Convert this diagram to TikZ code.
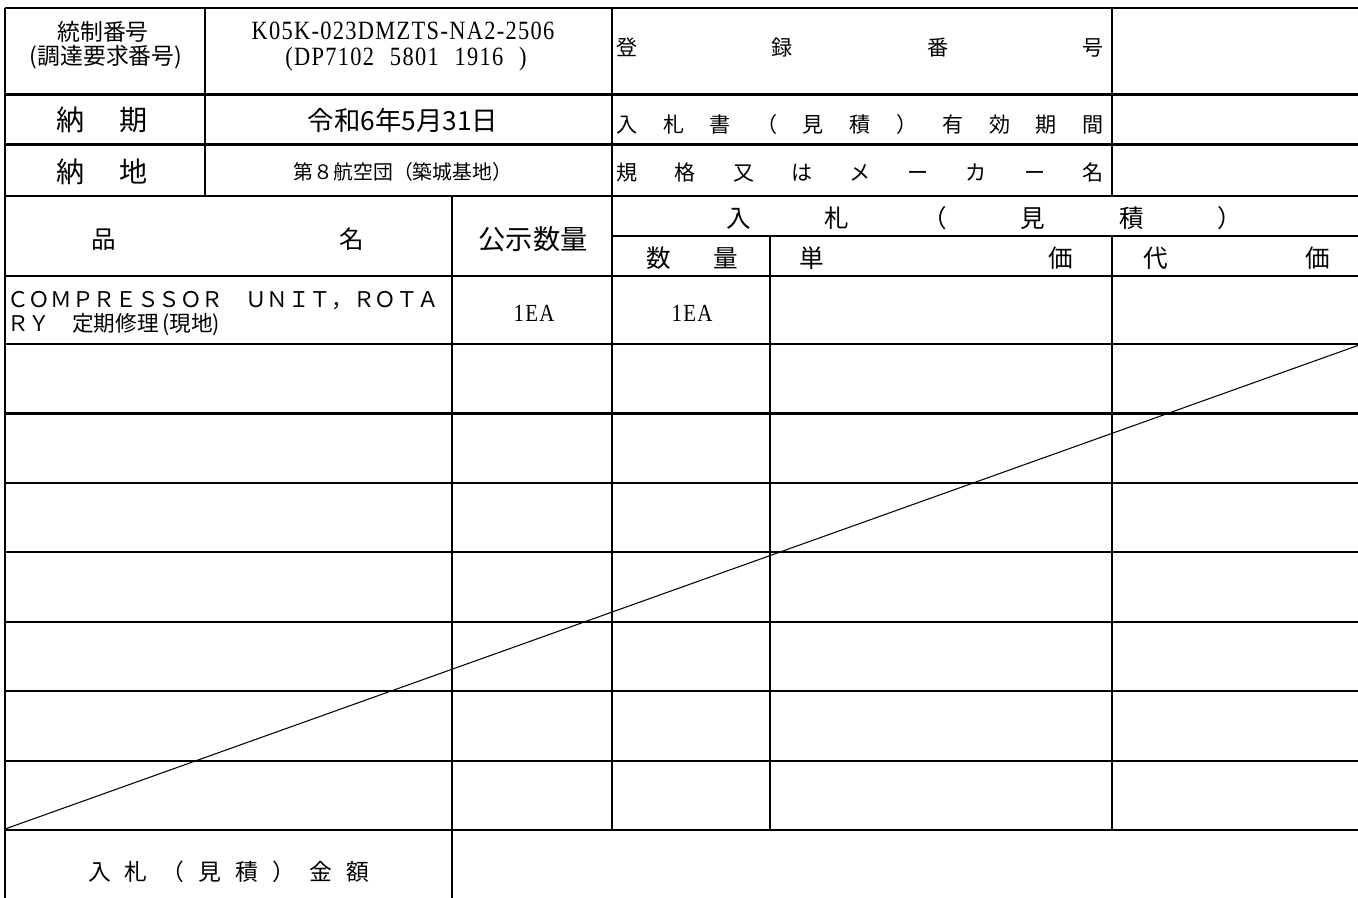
\documentclass[tikz,border=0pt]{standalone}
\usepackage{fontspec}
\setmainfont{Liberation Serif}
\newfontfamily\jpfont{Noto Sans CJK JP}
\newfontfamily\halfwidth{Liberation Serif}[FakeStretch=0.85, LetterSpace=5]
\usetikzlibrary{calc, positioning}

% spread the characters of #2 evenly over a box of width #1
\def\spreadfirst#1{#1\spreadrest}
\def\spreadrest#1{\ifx#1\relax\else\hfill#1\expandafter\spreadrest\fi}
\newcommand\spreadbox[2]{\makebox[#1]{\spreadfirst#2\relax}}

\tikzset{
  rule/.style={line width=1.25pt},
  crossout/.style={line width=0.6pt},
  jpText/.style={inner sep=0pt, font=\jpfont\fontsize{#1}{#1}\selectfont,
    text height={0.88*#1pt}, text depth={0.12*#1pt}},
  enText/.style={inner sep=0pt, font=\halfwidth\fontsize{#1}{#1}\selectfont,
    text height={0.66*#1pt}, text depth=0pt}
}

\begin{document}
\begin{tikzpicture}[x=0.02cm, y=-0.02cm]
          \useasboundingbox (0,0) rectangle (1358,897);
          % Rules
          \draw[rule] (5,8) -- (1365,8);
          \foreach \y in {94.5,144.5,196,276,344,413.4,482.9,552.3,621.7,691.1,760.6,830}
            \draw[rule] (5,\y) -- (1365,\y);
          \draw[rule] (612,236) -- (1365,236);
          \draw[rule] (5,8) -- (5,900);
          \draw[rule] (205,8) -- (205,196);
          \draw[rule] (612,8) -- (612,830);
          \draw[rule] (1112,8) -- (1112,196);
          \draw[rule] (1112,236) -- (1112,830);
          \draw[rule] (452,196) -- (452,900);
          \draw[rule] (770,236) -- (770,830);
          % Header block
          \node[jpText=13] (ctrlNoLbl) at (103,32) {統制番号};
          \node[jpText=13] (procNoLbl) at (106,56) {(調達要求番号)};
          \node[enText=15] (ctrlNoVal) at (403,31) {K05K-023DMZTS-NA2-2506};
          \node[enText=15] (procNoVal) at (406,57) {(DP7102\hspace{0.6em}5801\hspace{0.6em}1916\hspace{0.6em})};
          \node[jpText=12] (regNoLbl) at (860,47) {\spreadbox{9.74cm}{登録番号}};
          \node[jpText=16] (dueLbl) at (102,120) {\spreadbox{1.82cm}{納期}};
          \node[jpText=15] (dueVal) at (403,120) {令和6年5月31日};
          \node[jpText=12] (validLbl) at (860,124) {\spreadbox{9.74cm}{入札書（見積）有効期間}};
          \node[jpText=16] (placeLbl) at (102,172) {\spreadbox{1.82cm}{納地}};
          \node[jpText=11.3] (placeVal) at (403,172) {第８航空団（築城基地）};
          \node[jpText=12] (makerLbl) at (860,172) {\spreadbox{9.74cm}{規格又はメーカー名}};
          % Column heads
          \node[jpText=14] (itemHdr) at (227.5,239) {\spreadbox{5.46cm}{品名}};
          \node[jpText=15.5] (qtyHdr) at (533,239) {公示数量};
          \node[jpText=14] (bidHdr) at (984,218) {\spreadbox{10.32cm}{入札（見積）}};
          \node[jpText=14] (bidQtyHdr) at (692,258) {\spreadbox{1.84cm}{数量}};
          \node[jpText=14] (unitHdr) at (936,258) {\spreadbox{5.48cm}{単価}};
          \node[jpText=14] (priceHdr) at (1236.5,258) {\spreadbox{3.74cm}{代価}};
          % Item
          \node[jpText=12.3, anchor=west] (itemLine1) at (7,299) {ＣＯＭＰＲＥＳＳＯＲ　ＵＮＩＴ，ＲＯＴＡ};
          \node[jpText=12.3, anchor=west] (itemLine2) at (7,323) {ＲＹ　定期修理\,(現地)};
          \node[enText=14] (qtyVal) at (534,313) {1EA};
          \node[enText=14] (bidQtyVal) at (692,313) {1EA};
          % Cross-out of the empty rows
          \coordinate (crossStart) at (5,829);
          \coordinate (crossEnd) at (1362,344);
          \draw[crossout] (crossStart) -- (crossEnd);
          % Total
          \node[jpText=13] (totalLbl) at (228.5,872) {\spreadbox{5.62cm}{入札（見積）金額}};
        \end{tikzpicture}
\end{document}
